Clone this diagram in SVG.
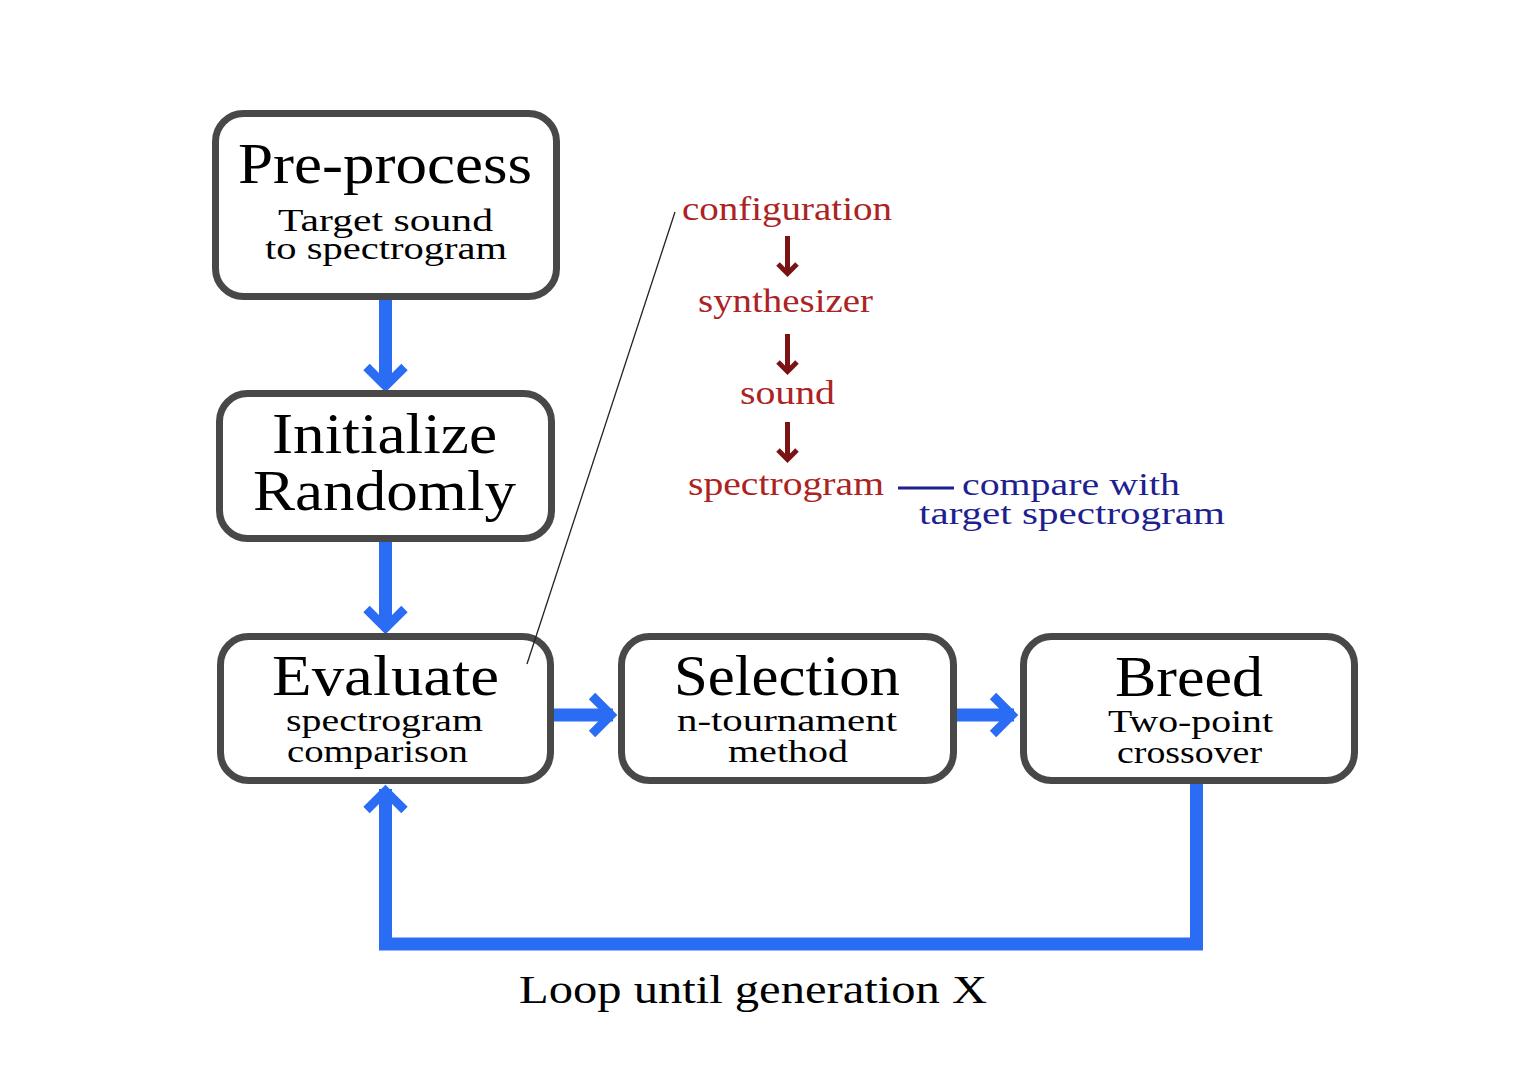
<svg xmlns="http://www.w3.org/2000/svg" width="1524" height="1082" viewBox="0 0 1524 1082">
<style>
.box{fill:#fff;stroke:#484848;stroke-width:7}
.t{font-family:"Liberation Serif","Times New Roman",serif;fill:#000;text-anchor:middle}
.big{font-size:58px}
.sub{font-size:32px}
.red{font-family:"Liberation Serif",serif;font-size:33px;fill:#ab2323;text-anchor:middle}
.blue{font-family:"Liberation Serif",serif;font-size:32px;fill:#1f1f8f}
.shaft{fill:none;stroke:#2a6cf4;stroke-width:13}
.head{fill:none;stroke:#2a6cf4;stroke-width:9;stroke-linejoin:miter;stroke-linecap:butt}
.rshaft{fill:none;stroke:#7a1414;stroke-width:5}
.rhead{fill:none;stroke:#7a1414;stroke-width:5;stroke-linejoin:miter}
</style>
<rect width="1524" height="1082" fill="#fff"/>
<g id="connectors">
  <line class="shaft" x1="385.5" y1="298" x2="385.5" y2="384"/>
  <polyline class="head" points="366.5,367 385.5,386 404.5,367"/>
  <line class="shaft" x1="385.5" y1="541" x2="385.5" y2="626"/>
  <polyline class="head" points="366.5,609 385.5,628 404.5,609"/>
  <line class="shaft" x1="554" y1="715" x2="613" y2="715"/>
  <polyline class="head" points="592,696 611,715 592,734"/>
  <line class="shaft" x1="956" y1="715" x2="1014" y2="715"/>
  <polyline class="head" points="993,696 1012,715 993,734"/>
  <polyline class="shaft" points="1196.5,783 1196.5,944 385.5,944 385.5,789" stroke-linejoin="miter"/>
  <polyline class="head" points="366.5,810 385.5,791 404.5,810"/>
  <line class="rshaft" x1="787.5" y1="236" x2="787.5" y2="272"/>
  <polyline class="rhead" points="778,264 787.5,273.5 797,264"/>
  <line class="rshaft" x1="787.5" y1="334" x2="787.5" y2="370"/>
  <polyline class="rhead" points="778,362 787.5,371.5 797,362"/>
  <line class="rshaft" x1="787.5" y1="422" x2="787.5" y2="458"/>
  <polyline class="rhead" points="778,450 787.5,459.5 797,450"/>
  <line x1="898" y1="488" x2="954" y2="488" stroke="#1f1f8f" stroke-width="3"/>
</g>
<g id="preprocess">
  <rect class="box" x="215.5" y="113.5" width="341" height="183" rx="28"/>
  <text class="t big" x="385" y="183" textLength="294" lengthAdjust="spacingAndGlyphs">Pre-process</text>
  <text class="t sub" x="385.5" y="231" textLength="215" lengthAdjust="spacingAndGlyphs">Target sound</text>
  <text class="t sub" x="386" y="259" textLength="242" lengthAdjust="spacingAndGlyphs">to spectrogram</text>
</g>
<g id="initialize">
  <rect class="box" x="219.5" y="393.5" width="332" height="145" rx="28"/>
  <text class="t big" x="384.5" y="453" textLength="225" lengthAdjust="spacingAndGlyphs">Initialize</text>
  <text class="t big" x="384.5" y="510" textLength="263" lengthAdjust="spacingAndGlyphs">Randomly</text>
</g>
<g id="evaluate">
  <rect class="box" x="220.5" y="636.5" width="330" height="144" rx="28"/>
  <text class="t big" x="385.5" y="695" textLength="227" lengthAdjust="spacingAndGlyphs">Evaluate</text>
  <text class="t sub" x="384.5" y="731" textLength="197" lengthAdjust="spacingAndGlyphs">spectrogram</text>
  <text class="t sub" x="377.5" y="762" textLength="181" lengthAdjust="spacingAndGlyphs">comparison</text>
</g>
<g id="selection">
  <rect class="box" x="621.5" y="636.5" width="332" height="144" rx="28"/>
  <text class="t big" x="787" y="695" textLength="226" lengthAdjust="spacingAndGlyphs">Selection</text>
  <text class="t sub" x="787" y="731" textLength="220" lengthAdjust="spacingAndGlyphs">n-tournament</text>
  <text class="t sub" x="788" y="762" textLength="120" lengthAdjust="spacingAndGlyphs">method</text>
</g>
<g id="breed">
  <rect class="box" x="1023.5" y="636.5" width="331" height="144" rx="28"/>
  <text class="t big" x="1189" y="696" textLength="148" lengthAdjust="spacingAndGlyphs">Breed</text>
  <text class="t sub" x="1190.5" y="732" textLength="165" lengthAdjust="spacingAndGlyphs">Two-point</text>
  <text class="t sub" x="1189.5" y="763" textLength="145" lengthAdjust="spacingAndGlyphs">crossover</text>
</g>
<g id="callout">
  <line x1="527" y1="664" x2="675" y2="212" stroke="#222" stroke-width="1.3"/>
</g>
<g id="pipeline">
  <text class="red" x="787" y="220" textLength="210" lengthAdjust="spacingAndGlyphs">configuration</text>
  <text class="red" x="785.5" y="312" textLength="175" lengthAdjust="spacingAndGlyphs">synthesizer</text>
  <text class="red" x="787.5" y="404" textLength="95" lengthAdjust="spacingAndGlyphs">sound</text>
  <text class="red" x="786" y="495" textLength="196" lengthAdjust="spacingAndGlyphs">spectrogram</text>
  <text class="blue" x="962" y="495" textLength="218" lengthAdjust="spacingAndGlyphs">compare with</text>
  <text class="blue" x="919" y="524" textLength="306" lengthAdjust="spacingAndGlyphs">target spectrogram</text>
</g>
<g id="loop-label">
  <text class="t" x="753" y="1003" font-size="41" textLength="468" lengthAdjust="spacingAndGlyphs">Loop until generation X</text>
</g>
</svg>
